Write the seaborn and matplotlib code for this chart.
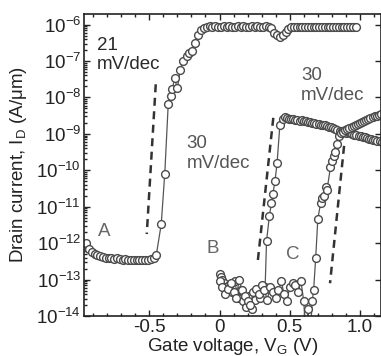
import numpy as np
import matplotlib
matplotlib.use('Agg')
import matplotlib.pyplot as plt
import matplotlib.ticker as mticker
import seaborn as sns

# curve A (left device): gate voltage (V) and log10 of drain current (A/um)
va = [-0.95, -0.93, -0.91, -0.89, -0.87, -0.85, -0.83, -0.81, -0.79, -0.77,
      -0.75, -0.73, -0.71, -0.69, -0.67, -0.65, -0.63, -0.61, -0.59, -0.57,
      -0.55, -0.53, -0.51, -0.49, -0.47, -0.45,
      -0.415, -0.39, -0.365, -0.345, -0.337, -0.32, -0.30, -0.28, -0.26, -0.235,
      -0.215, -0.195, -0.175, -0.155, -0.13, -0.11,
      -0.09, -0.07, -0.05, -0.03, -0.01, 0.01, 0.03, 0.05, 0.07, 0.09, 0.11,
      0.13, 0.15, 0.17, 0.19, 0.21, 0.23, 0.25, 0.27, 0.29, 0.31, 0.33, 0.35,
      0.37, 0.39, 0.41, 0.43, 0.45, 0.47, 0.49, 0.51,
      0.53, 0.55, 0.57, 0.59, 0.61, 0.63, 0.65, 0.67, 0.69, 0.71, 0.73, 0.75,
      0.77, 0.79, 0.81, 0.83, 0.85, 0.87, 0.89, 0.91, 0.93, 0.95, 0.97]
la = [-12.00, -12.15, -12.24, -12.30, -12.33, -12.36, -12.38, -12.40, -12.41, -12.42,
      -12.43, -12.42, -12.44, -12.45, -12.44, -12.46, -12.45, -12.46, -12.45, -12.46,
      -12.47, -12.46, -12.45, -12.44, -12.42, -12.32,
      -11.48, -10.10, -8.17, -7.95, -7.78, -7.48, -7.75, -7.25, -7.00, -6.85,
      -6.78, -6.72, -6.50, -6.30, -6.16, -6.09,
      -6.06, -6.05, -6.06, -6.05, -6.06, -6.07, -6.05, -6.06, -6.05, -6.06, -6.06,
      -6.05, -6.06, -6.05, -6.06, -6.06, -6.05, -6.06, -6.05, -6.06, -6.06, -6.05, -6.07,
      -6.10, -6.22, -6.30, -6.33, -6.28, -6.20, -6.12, -6.08,
      -6.07, -6.06, -6.07, -6.06, -6.07, -6.06, -6.07, -6.06, -6.07, -6.06, -6.07, -6.06,
      -6.07, -6.06, -6.07, -6.06, -6.07, -6.06, -6.07, -6.06, -6.07, -6.07, -6.08]

# curve B
vb = [0.00, 0.01, 0.02, 0.03, 0.04, 0.05, 0.07, 0.09, 0.11, 0.13,
      0.15, 0.17, 0.19, 0.21, 0.23, 0.25, 0.27, 0.29, 0.31, 0.325,
      0.335, 0.355, 0.37, 0.38, 0.395, 0.41, 0.43, 0.45,
      0.465, 0.48, 0.495, 0.51, 0.525, 0.54, 0.555, 0.57, 0.585, 0.60,
      0.615, 0.63, 0.645, 0.66, 0.675, 0.69, 0.705, 0.72, 0.735, 0.75,
      0.765, 0.78, 0.795, 0.81, 0.825, 0.84, 0.855, 0.87, 0.885, 0.90,
      0.915, 0.93, 0.945, 0.96, 0.975, 0.99, 1.005, 1.02, 1.035, 1.05,
      1.065, 1.08, 1.095, 1.11, 1.125, 1.14, 1.155]
lb = [-12.85, -12.92, -13.00, -13.10, -13.20, -13.30, -13.15, -13.35, -13.05, -13.50,
      -13.30, -13.60, -13.75, -13.45, -13.80, -13.55, -13.35, -13.50, -13.25, -13.20,
      -11.94, -11.26, -10.90, -10.65, -10.30, -9.80, -8.75, -8.60,
      -8.55, -8.57, -8.58, -8.60, -8.59, -8.61, -8.62, -8.64, -8.63, -8.65,
      -8.66, -8.68, -8.67, -8.70, -8.71, -8.73, -8.72, -8.75, -8.77, -8.76,
      -8.79, -8.80, -8.82, -8.84, -8.86, -8.90, -8.92, -8.93, -8.95, -8.97,
      -8.96, -8.99, -9.00, -9.02, -9.03, -9.05, -9.06, -9.08, -9.10, -9.12,
      -9.13, -9.15, -9.16, -9.18, -9.19, -9.20, -9.21]

# curve C
vc = [0.00, 0.02, 0.04, 0.06, 0.08, 0.10, 0.12, 0.14, 0.16, 0.18,
      0.20, 0.22, 0.24, 0.26, 0.28, 0.30, 0.32, 0.34, 0.36, 0.38,
      0.40, 0.42, 0.44, 0.46, 0.48, 0.50, 0.52, 0.54, 0.56, 0.58,
      0.60, 0.615, 0.63, 0.645, 0.66, 0.67,
      0.685, 0.70, 0.72, 0.73, 0.745, 0.755, 0.765, 0.79, 0.80, 0.815,
      0.825, 0.84, 0.85,
      0.865, 0.88, 0.895, 0.91, 0.925, 0.94, 0.955, 0.97, 0.985, 1.00,
      1.015, 1.03, 1.045, 1.06, 1.075, 1.09, 1.105, 1.12, 1.135, 1.15]
lc = [-13.05, -13.20, -13.40, -13.25, -13.10, -13.35, -13.50, -13.00, -13.30, -13.45,
      -13.60, -13.70, -13.35, -13.25, -13.40, -13.15, -13.30, -13.55, -13.20, -13.35,
      -13.50, -13.30, -13.05, -13.40, -13.60, -13.20, -13.10, -13.15, -13.35, -13.05,
      -13.60, -14.60, -13.80, -14.60, -13.60, -13.30,
      -12.40, -11.34, -10.90, -10.75, -10.70, -10.45, -10.55, -9.92, -9.75, -9.60,
      -9.50, -9.28, -9.05,
      -8.98, -8.95, -8.90, -8.88, -8.85, -8.82, -8.78, -8.75, -8.72, -8.70,
      -8.68, -8.65, -8.62, -8.60, -8.57, -8.55, -8.52, -8.50, -8.47, -8.45]

# dashed slope guides: (V start, V end), (log I start, log I end)
guide_v = [(-0.454, -0.518), (0.383, 0.27), (0.887, 0.787)]
guide_l = [(-7.64, -11.75), (-8.56, -12.58), (-9.33, -13.1)]

fs = 13.5
sns.set_theme(style='ticks')
plt.rcParams['font.family'] = ['Liberation Sans', 'DejaVu Sans']
plt.rcParams['font.size'] = fs
plt.rcParams['mathtext.fontset'] = 'custom'
plt.rcParams['mathtext.rm'] = 'Liberation Sans'
plt.rcParams['mathtext.it'] = 'Liberation Sans:italic'
plt.rcParams['mathtext.default'] = 'regular'

fig = plt.figure(figsize=(3.81, 3.56), dpi=100)
ax = fig.add_axes([84 / 381, 1 - 316 / 356, (381 - 84) / 381, (316 - 14) / 356])
ax.set_yscale('log')

mk = dict(marker='o', markersize=5.6, markerfacecolor='white',
          markeredgecolor='#4a4a4a', markeredgewidth=1.0,
          color='#555555', linewidth=0.9, sort=False, estimator=None)
for v, l in [(va, la), (vb, lb), (vc, lc)]:
    sns.lineplot(x=v, y=10 ** np.array(l), ax=ax, **mk)

for gv, gl in zip(guide_v, guide_l):
    ax.plot(gv, 10 ** np.array(gl), color='#333333', lw=1.8, ls=(0, (3.2, 2.2)))

ax.set_xlim(-0.965, 1.15)
ax.set_ylim(1e-14, 10 ** -5.71)
ax.set_xticks([-0.5, 0, 0.5, 1.0])
ax.set_xticklabels(['-0.5', '0', '0.5', '1.0'])
ax.xaxis.set_minor_locator(mticker.MultipleLocator(0.1))
ax.yaxis.set_major_locator(mticker.LogLocator(base=10, numticks=20))
ax.yaxis.set_minor_locator(mticker.LogLocator(base=10, subs=np.arange(2, 10), numticks=20))
ax.yaxis.set_major_formatter(mticker.FuncFormatter(
    lambda y, p: r'10$^{%d}$' % int(round(np.log10(y)))))
ax.yaxis.set_minor_formatter(mticker.NullFormatter())

ax.tick_params(which='both', direction='in', top=True, right=True,
               colors='#222222', labelcolor='#222222', width=1.0)
ax.tick_params(which='major', length=4.5, labelsize=fs, pad=2)
ax.tick_params(which='minor', length=2.5)
ax.tick_params(axis='y', which='minor', right=False)
for s in ax.spines.values():
    s.set_linewidth(1.2)
    s.set_color('#222222')

ax.set_xlabel(r'Gate voltage, V$_{G}$ (V)', fontsize=fs, color='#222222', labelpad=0.5)
ax.set_ylabel(r'Drain current, I$_{D}$ (A/μm)', fontsize=fs, color='#222222', labelpad=5)

ax.text(-0.872, 10 ** -6.83, '21\nmV/dec', color='#2a2a2a', fontsize=fs, ha='left', va='center')
ax.text(-0.234, 10 ** -9.54, '30\nmV/dec', color='#555555', fontsize=fs, ha='left', va='center')
ax.text(0.58, 10 ** -7.68, '30\nmV/dec', color='#555555', fontsize=fs, ha='left', va='center')
ax.text(-0.823, 10 ** -11.67, 'A', color='#666666', fontsize=fs, ha='center', va='center')
ax.text(-0.05, 10 ** -12.14, 'B', color='#666666', fontsize=fs, ha='center', va='center')
ax.text(0.52, 10 ** -12.3, 'C', color='#666666', fontsize=fs, ha='center', va='center')

fig.savefig('out.png', dpi=100)
